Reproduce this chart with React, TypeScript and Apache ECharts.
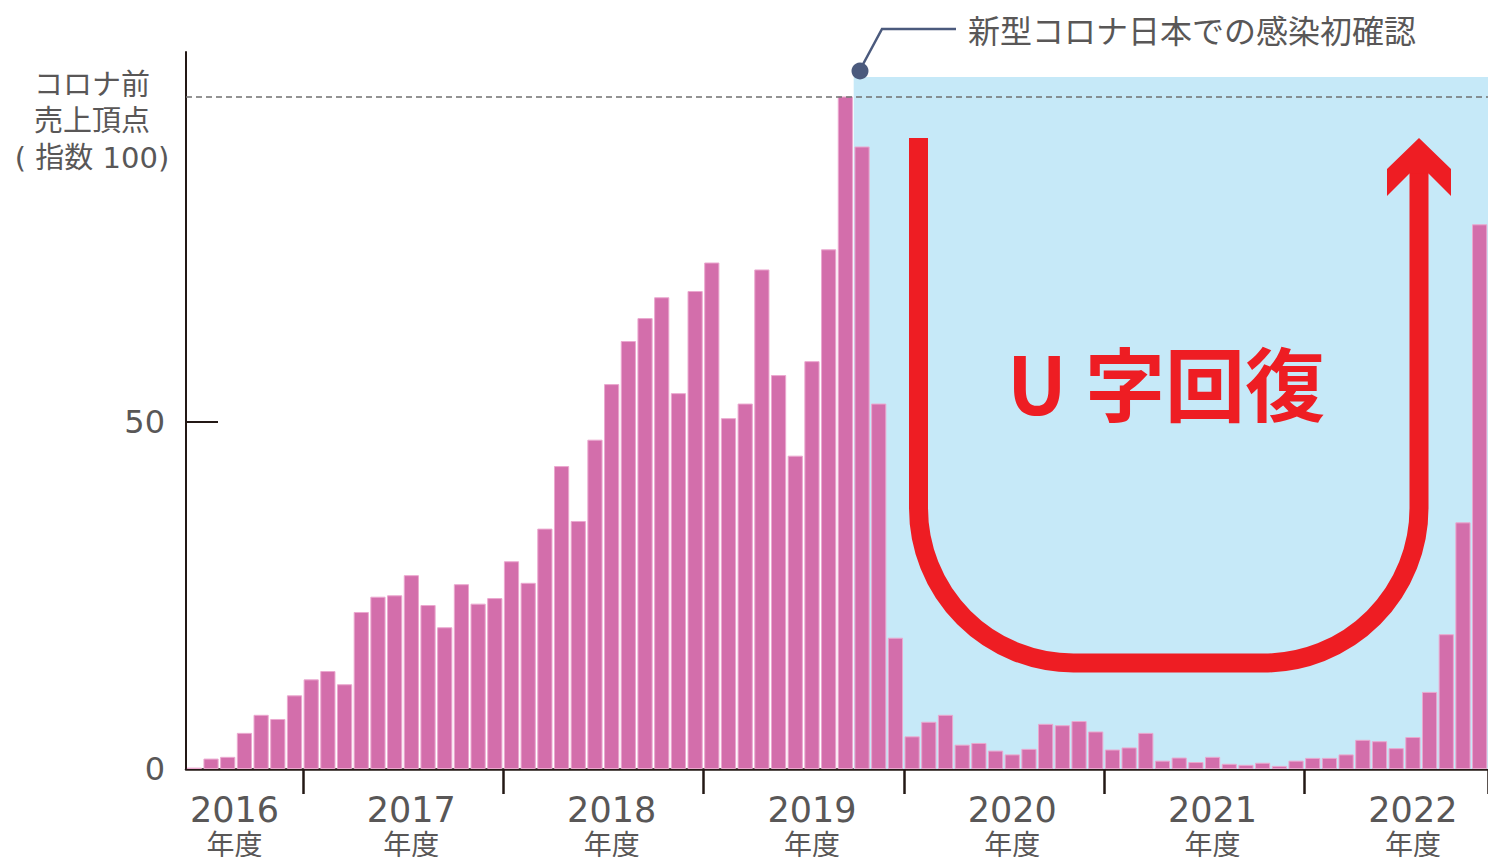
import React, { useEffect, useRef } from "react";
import * as echarts from "echarts";

// Monthly sales index, Sep 2016 – Feb 2023 (fiscal years start in April)
const months: string[] = [
  "2016-09", "2016-10", "2016-11", "2016-12", "2017-01", "2017-02", "2017-03",
  "2017-04", "2017-05", "2017-06", "2017-07", "2017-08", "2017-09", "2017-10", "2017-11", "2017-12", "2018-01", "2018-02", "2018-03",
  "2018-04", "2018-05", "2018-06", "2018-07", "2018-08", "2018-09", "2018-10", "2018-11", "2018-12", "2019-01", "2019-02", "2019-03",
  "2019-04", "2019-05", "2019-06", "2019-07", "2019-08", "2019-09", "2019-10", "2019-11", "2019-12", "2020-01", "2020-02", "2020-03",
  "2020-04", "2020-05", "2020-06", "2020-07", "2020-08", "2020-09", "2020-10", "2020-11", "2020-12", "2021-01", "2021-02", "2021-03",
  "2021-04", "2021-05", "2021-06", "2021-07", "2021-08", "2021-09", "2021-10", "2021-11", "2021-12", "2022-01", "2022-02", "2022-03",
  "2022-04", "2022-05", "2022-06", "2022-07", "2022-08", "2022-09", "2022-10", "2022-11", "2022-12", "2023-01", "2023-02",
];

const salesIndex: number[] = [
  0.2, 1.5, 1.75, 5.2, 7.8, 7.2, 10.6,
  12.9, 14.1, 12.2, 22.6, 24.8, 25.0, 27.9, 23.6, 20.4, 26.6, 23.8, 24.6,
  29.9, 26.8, 34.6, 43.6, 35.7, 47.4, 55.4, 61.6, 64.9, 67.9, 54.1, 68.8,
  72.9, 50.5, 52.6, 71.9, 56.7, 45.1, 58.7, 74.8, 96.8, 89.6, 52.6, 18.9,
  4.7, 6.8, 7.8, 3.5, 3.75, 2.65, 2.1, 2.9, 6.5, 6.3, 6.9, 5.4,
  2.8, 3.1, 5.2, 1.2, 1.65, 1.0, 1.75, 0.75, 0.6, 0.9, 0.45, 1.2,
  1.6, 1.6, 2.1, 4.2, 4.0, 3.0, 4.6, 11.1, 19.4, 35.5, 78.4,
];

const yLabelValues: number[] = [0, 50];
const yTickValues: number[] = [50];
const preCovidPeak = 96.8; // コロナ前売上頂点
const covidStartMonth = "2020-01"; // 新型コロナ日本での感染初確認
const covidAreaTop = 99.6;

const fiscalYearOf = (m: string) => {
  const [y, mo] = m.split("-").map(Number);
  return mo >= 4 ? y : y - 1;
};

const TEXT = "#595757";
const AXIS = "#231815";
const NUM_FONT = "'DejaVu Sans', 'Noto Sans CJK JP', sans-serif";
const JP_FONT = "'Noto Sans CJK JP', 'DejaVu Sans', sans-serif";

const uPath =
  "M918.5 138 L918.5 508 A155 155 0 0 0 1073.5 663 L1264 663 A155 155 0 0 0 1419 508 L1419 170";

export default function App() {
  const ref = useRef<HTMLDivElement>(null);

  useEffect(() => {
    if (!ref.current) return;
    echarts.graphic.registerShape("uArrow", echarts.graphic.extendPath(uPath, {}) as any);
    const chart = echarts.init(ref.current, undefined, { renderer: "svg" });

    const firstMonthOfFy = (i: number) => i === 0 || months[i].endsWith("-04");
    const labelIdx = new Set<number>();
    // label each fiscal year at its October, the first partial year at index 3
    months.forEach((m, i) => {
      if (m.endsWith("-10") && i !== 1) labelIdx.add(i);
    });
    labelIdx.add(3);
    labelIdx.add(months.length - 5);

    const covidIdx = months.indexOf(covidStartMonth);

    const option: any = {
      animation: false,
      grid: { left: 186, right: 0, top: 52, bottom: 85, containLabel: false },
      xAxis: [
        {
          type: "category",
          data: months,
          boundaryGap: true,
          axisLine: { show: true, lineStyle: { color: AXIS, width: 2.5 } },
          axisTick: {
            show: true,
            length: 25,
            lineStyle: { color: AXIS, width: 2.5 },
            interval: (i: number) => i > 0 && firstMonthOfFy(i),
          },
          axisLabel: {
            interval: (i: number) => labelIdx.has(i),
            margin: 24,
            formatter: (v: string, i: number) => {
              const fy = fiscalYearOf(v);
              return i === 3 ? `{a0|${fy}}\n{b0|年度}` : `{a|${fy}}\n{b|年度}`;
            },
            rich: {
              a: { fontSize: 35, lineHeight: 35, color: TEXT, fontFamily: NUM_FONT },
              b: { fontSize: 28, lineHeight: 30, color: TEXT, fontFamily: JP_FONT },
              a0: { fontSize: 35, lineHeight: 35, color: TEXT, fontFamily: NUM_FONT, padding: [0, 20, 0, 0] },
              b0: { fontSize: 28, lineHeight: 30, color: TEXT, fontFamily: JP_FONT, padding: [0, 20, 0, 0] },
            },
          },
          splitLine: { show: false },
        },
        {
          type: "value",
          min: 0,
          max: months.length,
          show: false,
        },
      ],
      yAxis: {
        type: "value",
        min: 0,
        max: 103.2,
        axisLine: { show: true, lineStyle: { color: AXIS, width: 2 } },
        axisTick: {
          show: true,
          inside: true,
          length: 32,
          customValues: yTickValues,
          lineStyle: { color: AXIS, width: 2 },
        },
        axisLabel: {
          customValues: yLabelValues,
          margin: 21,
          fontSize: 32,
          color: TEXT,
          fontFamily: NUM_FONT,
        },
        splitLine: { show: false },
      },
      series: [
        {
          type: "line",
          xAxisIndex: 1,
          data: [[covidIdx, 0]],
          symbol: "none",
          lineStyle: { opacity: 0 },
          silent: true,
          z: 1,
          markArea: {
            silent: true,
            itemStyle: { color: "#C6E9F8" },
            data: [[{ xAxis: covidIdx, yAxis: covidAreaTop }, { xAxis: months.length, yAxis: 0 }]],
          },
        },
        {
          type: "bar",
          data: salesIndex,
          barCategoryGap: "9%",
          itemStyle: { color: "#D36EAB", borderColor: "#EBA8CF", borderWidth: 1 },
          z: 2,
          markLine: {
            silent: true,
            symbol: "none",
            label: { show: false },
            lineStyle: { color: "#707070", type: [6, 4], width: 1.5 },
            data: [{ yAxis: preCovidPeak }],
          },
        },
      ],
      graphic: [
        {
          type: "text",
          x: 92,
          y: 121,
          z: 10,
          style: {
            text: "コロナ前\n売上頂点\n( 指数 100)",
            font: `29px ${NUM_FONT}`,
            fill: TEXT,
            align: "center",
            verticalAlign: "middle",
            lineHeight: 36.5,
          },
        },
        {
          type: "polyline",
          z: 10,
          shape: { points: [[861, 68], [882, 29], [956, 29]] },
          style: { stroke: "#4B5A7D", lineWidth: 2.5, fill: null },
        },
        {
          type: "circle",
          z: 11,
          shape: { cx: 860, cy: 71, r: 8.5 },
          style: { fill: "#4B5A7D" },
        },
        {
          type: "text",
          x: 968,
          y: 29,
          z: 10,
          style: {
            text: "新型コロナ日本での感染初確認",
            font: `32px ${JP_FONT}`,
            fill: TEXT,
            align: "left",
            verticalAlign: "middle",
          },
        },
        {
          type: "uArrow",
          x: 0,
          y: 0,
          z: 10,
          style: { stroke: "#EE1D23", lineWidth: 19, fill: null },
        },
        {
          type: "polygon",
          z: 10,
          shape: {
            points: [
              [1419, 138], [1451, 169], [1451, 196], [1428.5, 173.5],
              [1409.5, 173.5], [1387, 196], [1387, 169],
            ],
          },
          style: { fill: "#EE1D23" },
        },
        {
          type: "text",
          x: 1166,
          y: 380,
          z: 10,
          style: {
            text: "U 字回復",
            font: `bold 80px ${JP_FONT}`,
            fill: "#EE1D23",
            align: "center",
            verticalAlign: "middle",
          },
        },
      ],
    };

    chart.setOption(option);
    return () => chart.dispose();
  }, []);

  return (
    <div
      ref={ref}
      style={{ position: "fixed", left: 0, top: 0, width: 1488, height: 857, background: "#fff" }}
    />
  );
}
